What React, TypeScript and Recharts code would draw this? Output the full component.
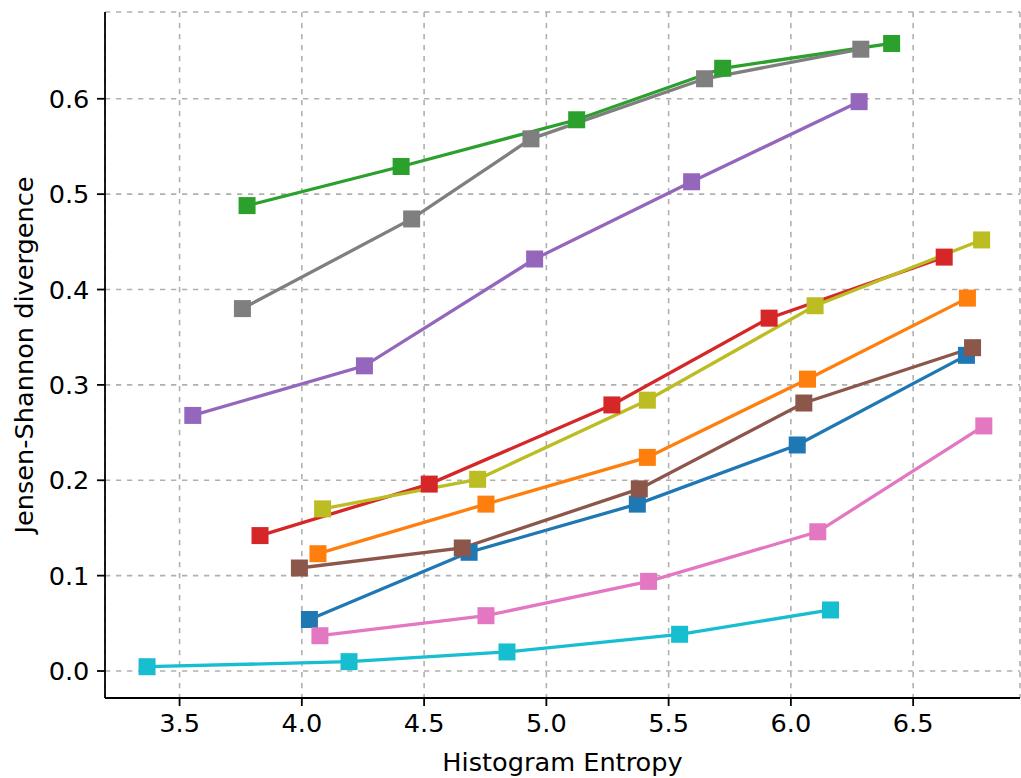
import { LineChart, Line, XAxis, YAxis, CartesianGrid } from "recharts";

const FONT = "'DejaVu Sans', sans-serif";
const FONT_SIZE = 25.6;

const xTicks = [3.5, 4.0, 4.5, 5.0, 5.5, 6.0, 6.5];
const yTicks = [0.0, 0.1, 0.2, 0.3, 0.4, 0.5, 0.6];

// entropy (x) / divergence (y) per run
const blueX = [4.031, 4.684, 5.372, 6.026, 6.718];
const blueY = [0.054, 0.1245, 0.175, 0.237, 0.331];
const orangeX = [4.066, 4.753, 5.413, 6.068, 6.722];
const orangeY = [0.123, 0.175, 0.224, 0.306, 0.391];
const greenX = [3.776, 4.406, 5.124, 5.721, 6.412];
const greenY = [0.488, 0.529, 0.578, 0.632, 0.658];
const redX = [3.829, 4.521, 5.268, 5.911, 6.627];
const redY = [0.142, 0.196, 0.279, 0.37, 0.434];
const purpleX = [3.554, 4.256, 4.952, 5.594, 6.279];
const purpleY = [0.268, 0.32, 0.432, 0.513, 0.597];
const brownX = [3.99, 4.656, 5.38, 6.053, 6.743];
const brownY = [0.108, 0.129, 0.191, 0.281, 0.339];
const pinkX = [4.074, 4.753, 5.418, 6.11, 6.789];
const pinkY = [0.037, 0.058, 0.094, 0.146, 0.257];
const grayX = [3.757, 4.449, 4.937, 5.647, 6.286];
const grayY = [0.38, 0.474, 0.558, 0.621, 0.652];
const oliveX = [4.085, 4.719, 5.413, 6.099, 6.78];
const oliveY = [0.17, 0.201, 0.284, 0.383, 0.452];
const cyanX = [3.367, 4.193, 4.839, 5.545, 6.162];
const cyanY = [0.0045, 0.0098, 0.02, 0.0385, 0.064];

const series = [
  { id: "blue", color: "#1f77b4", xs: blueX, ys: blueY },
  { id: "orange", color: "#ff7f0e", xs: orangeX, ys: orangeY },
  { id: "green", color: "#2ca02c", xs: greenX, ys: greenY },
  { id: "red", color: "#d62728", xs: redX, ys: redY },
  { id: "purple", color: "#9467bd", xs: purpleX, ys: purpleY },
  { id: "brown", color: "#8c564b", xs: brownX, ys: brownY },
  { id: "pink", color: "#e377c2", xs: pinkX, ys: pinkY },
  { id: "gray", color: "#7f7f7f", xs: grayX, ys: grayY },
  { id: "olive", color: "#bcbd22", xs: oliveX, ys: oliveY },
  { id: "cyan", color: "#17becf", xs: cyanX, ys: cyanY },
].map((s) => ({ ...s, data: s.xs.map((x, i) => ({ x, y: s.ys[i] })) }));

const tickStyle = { fontSize: FONT_SIZE, fill: "#000", fontFamily: FONT };

function squareDot(color: string) {
  return (props: any) => {
    const { cx, cy, index } = props;
    if (cx == null || cy == null) return <g key={index} />;
    return <rect key={index} x={cx - 8.5} y={cy - 8.5} width={17} height={17} fill={color} />;
  };
}

export default function App() {
  return (
    <div style={{ position: "absolute", left: 0, top: 0 }}>
      <LineChart width={1021} height={778} margin={{ top: 12, right: 1, bottom: 0, left: 0 }}>
        <CartesianGrid stroke="#b0b0b0" strokeWidth={1.6} strokeDasharray="5.3 5.7" />
        <XAxis
          type="number"
          dataKey="x"
          domain={[3.195, 6.937]}
          ticks={xTicks}
          allowDataOverflow
          height={80}
          tick={tickStyle}
          tickFormatter={(v: number) => v.toFixed(1)}
          tickSize={8}
          tickMargin={7.6}
          axisLine={{ stroke: "#000", strokeWidth: 1.8 }}
          tickLine={{ stroke: "#000", strokeWidth: 1.8 }}
          label={{
            value: "Histogram Entropy",
            position: "center",
            dy: 24,
            fontSize: FONT_SIZE,
            fontFamily: FONT,
            fill: "#000",
          }}
        />
        <XAxis
          xAxisId="top"
          orientation="top"
          type="number"
          domain={[3.195, 6.937]}
          height={0}
          tick={false}
          tickLine={false}
          axisLine={{ stroke: "#000", strokeWidth: 1.8 }}
        />
        <YAxis
          type="number"
          domain={[-0.0283, 0.691]}
          ticks={yTicks}
          allowDataOverflow
          width={105}
          tick={tickStyle}
          tickFormatter={(v: number) => v.toFixed(1)}
          tickSize={8}
          tickMargin={7.6}
          axisLine={{ stroke: "#000", strokeWidth: 1.8 }}
          tickLine={{ stroke: "#000", strokeWidth: 1.8 }}
          label={{
            value: "Jensen-Shannon divergence",
            angle: -90,
            position: "center",
            dx: -28.5,
            fontSize: FONT_SIZE,
            fontFamily: FONT,
            fill: "#000",
          }}
        />
        <YAxis
          yAxisId="right"
          orientation="right"
          type="number"
          domain={[-0.0283, 0.691]}
          width={0}
          tick={false}
          tickLine={false}
          axisLine={{ stroke: "#000", strokeWidth: 1.8 }}
        />
        {series.map((s) => (
          <Line
            key={s.id}
            data={s.data}
            dataKey="y"
            type="linear"
            stroke={s.color}
            strokeWidth={3.3}
            dot={squareDot(s.color)}
            activeDot={false}
            isAnimationActive={false}
          />
        ))}
      </LineChart>
    </div>
  );
}
